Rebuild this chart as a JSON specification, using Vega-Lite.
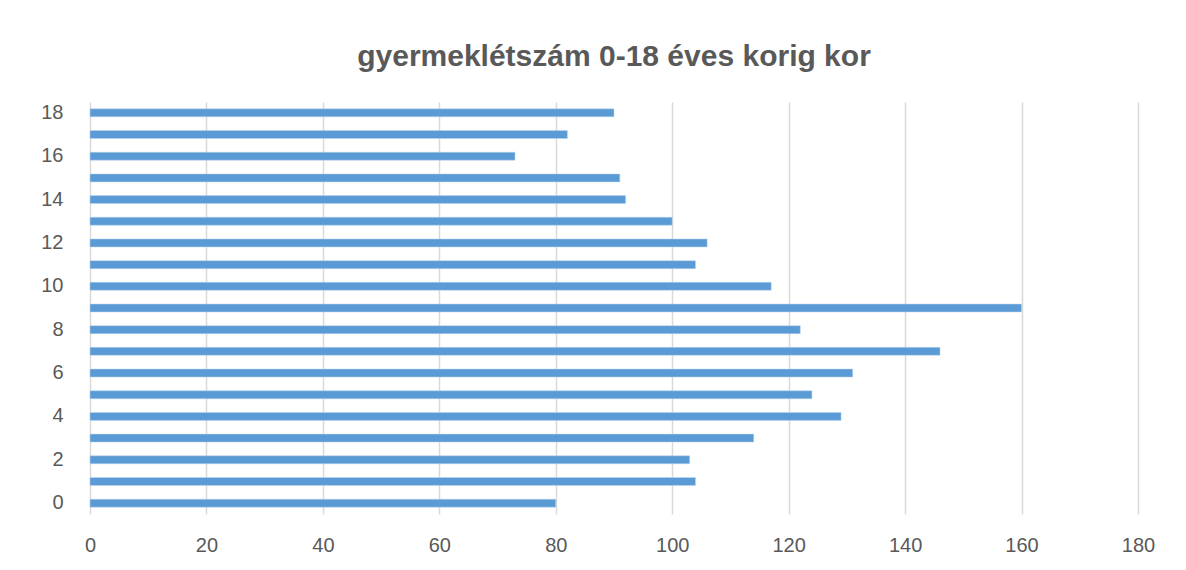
{
  "$schema": "https://vega.github.io/schema/vega-lite/v6.json",
  "width": 1048,
  "height": 412,
  "autosize": {"type": "none"},
  "padding": {"left": 90, "top": 102, "right": 48, "bottom": 56},
  "background": "white",
  "title": {
    "text": "gyermeklétszám 0-18 éves korig  kor",
    "fontSize": 30,
    "font": "Liberation Sans, sans-serif",
    "fontWeight": "bold",
    "color": "#595959",
    "offset": 30,
    "anchor": "middle"
  },
  "data": {
    "values": [
      {"kor": 0, "letszam": 80},
      {"kor": 1, "letszam": 104},
      {"kor": 2, "letszam": 103},
      {"kor": 3, "letszam": 114},
      {"kor": 4, "letszam": 129},
      {"kor": 5, "letszam": 124},
      {"kor": 6, "letszam": 131},
      {"kor": 7, "letszam": 146},
      {"kor": 8, "letszam": 122},
      {"kor": 9, "letszam": 160},
      {"kor": 10, "letszam": 117},
      {"kor": 11, "letszam": 104},
      {"kor": 12, "letszam": 106},
      {"kor": 13, "letszam": 100},
      {"kor": 14, "letszam": 92},
      {"kor": 15, "letszam": 91},
      {"kor": 16, "letszam": 73},
      {"kor": 17, "letszam": 82},
      {"kor": 18, "letszam": 90}
    ]
  },
  "mark": {"type": "bar", "color": "#5b9bd5", "size": 8, "stroke": "#bdd7ee", "strokeWidth": 0.5},
  "encoding": {
    "y": {
      "field": "kor",
      "type": "ordinal",
      "sort": "descending",
      "scale": {"paddingInner": 0.6, "paddingOuter": 0.3},
      "axis": {
        "title": null,
        "values": [0, 2, 4, 6, 8, 10, 12, 14, 16, 18],
        "domain": false,
        "ticks": false,
        "labelPadding": 27,
        "labelFontSize": 20,
        "labelColor": "#595959",
        "labelFont": "Liberation Sans, sans-serif"
      }
    },
    "x": {
      "field": "letszam",
      "type": "quantitative",
      "scale": {"domain": [0, 180], "nice": false},
      "axis": {
        "title": null,
        "values": [0, 20, 40, 60, 80, 100, 120, 140, 160, 180],
        "domain": false,
        "ticks": false,
        "grid": true,
        "gridColor": "#d9d9d9",
        "gridWidth": 1.5,
        "labelFlush": false,
        "labelPadding": 21,
        "labelFontSize": 20,
        "labelColor": "#595959",
        "labelFont": "Liberation Sans, sans-serif"
      }
    }
  },
  "config": {"view": {"stroke": null}}
}
